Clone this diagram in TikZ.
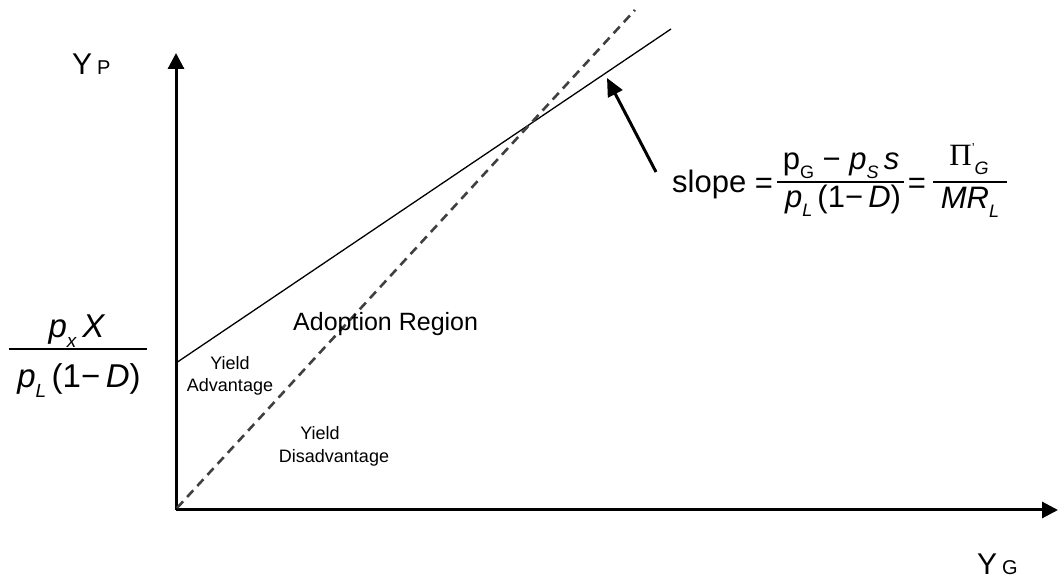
\documentclass[tikz,border=0pt]{standalone}
\usepackage{fontspec}
\setmainfont{Liberation Sans}
\newfontfamily\serifgreek{Liberation Serif}
\usetikzlibrary{arrows.meta}
\newcommand{\fs}[1]{\fontsize{#1}{#1}\selectfont}
\newcommand{\lowsub}[2]{\raisebox{-0.28em}{\fs{#1}#2}}
\begin{document}
\begin{tikzpicture}[x=1pt,y=1pt,
  axisline/.style={line width=3pt,-{Triangle[length=16pt,width=16pt]}},
  pointer/.style={line width=3pt,-{Triangle[length=18pt,width=16pt]}},
  budget/.style={line width=1.3pt},
  adopt/.style={line width=2.6pt,draw=black!75,dash pattern=on 9pt off 6pt},
  fracbar/.style={line width=1.4pt},
  lab/.style={inner sep=0pt,font=\fs{18}},
  big/.style={inner sep=0pt,font=\fs{33}},
  form/.style={inner sep=0pt,font=\fs{31}},
]
\useasboundingbox (0,0) rectangle (1059,580);
% axes
\coordinate (O) at (176,70);
\coordinate (Ytop) at (176,527);
\coordinate (Xend) at (1058,70);
\draw[axisline] (O) -- (Ytop);
\draw[axisline] (O) -- (Xend);
% lines
\coordinate (S0) at (176,217);
\coordinate (S1) at (671,551);
\draw[budget] (S0) -- (S1);
\coordinate (D0) at (177,72);
\coordinate (D1) at (635,570);
\draw[adopt] (D0) -- (D1);
\coordinate (Atail) at (656,408);
\coordinate (Atip) at (607,502);
\draw[pointer] (Atail) -- (Atip);
% axis labels
\node[inner sep=0pt,anchor=base west] (yp) at (72,505) {\fs{30}Y\,\fs{20}P};
\node[inner sep=0pt,anchor=base west] (yg) at (977,5) {\fs{30}Y\,\fs{20}G};
% region labels
\node[inner sep=0pt,anchor=base west,font=\fs{25}] (region) at (293,249) {Adoption Region};
\node[lab,anchor=base] (yadv1) at (230,210) {Yield};
\node[lab,anchor=base] (yadv2) at (230,188) {Advantage};
\node[lab,anchor=base] (ydis1) at (320,140) {Yield};
\node[lab,anchor=base] (ydis2) at (334,117) {Disadvantage};
% intercept fraction
\node[big,anchor=base] (inum) at (77,242) {\textit{p}\lowsub{19}{\textit{x}}\,\textit{X}};
\coordinate (ib0) at (9,231);
\coordinate (ib1) at (147,231);
\draw[fracbar] (ib0) -- (ib1);
\node[big,anchor=base] (iden) at (79,192) {\textit{p}\lowsub{19}{\textit{L}}\,(1−\,\textit{D})};
% slope formula
\node[form,anchor=base west] (slope) at (672,387) {slope};
\node[form] (eq1) at (764,394) {=};
\coordinate (sb0) at (777,398);
\coordinate (sb1) at (904,398);
\draw[fracbar] (sb0) -- (sb1);
\node[form,anchor=base] (snum) at (841,410) {p\lowsub{18}{G} − \textit{p}\lowsub{18}{\textit{S}}\,\textit{s}};
\node[form,anchor=base] (sden) at (843,372) {\textit{p}\lowsub{18}{\textit{L}}\,(1−\,\textit{D})};
\node[form] (eq2) at (917,394) {=};
\coordinate (tb0) at (933,398);
\coordinate (tb1) at (1007,398);
\draw[fracbar] (tb0) -- (tb1);
\node[form,anchor=base] (tnum) at (969,414) {{\serifgreek Π}\raisebox{0.45em}{\fs{13}'}\lowsub{18}{\textit{G}}};
\node[form,anchor=base] (tden) at (970,371) {\textit{MR}\lowsub{18}{\textit{L}}};
\end{tikzpicture}
\end{document}
